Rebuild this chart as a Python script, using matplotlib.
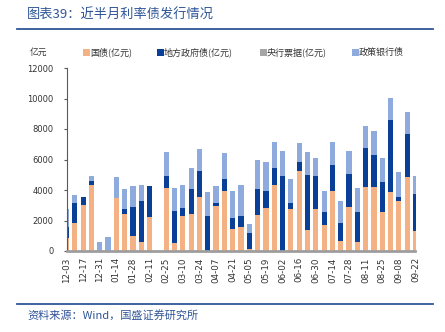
import matplotlib
matplotlib.use("Agg")
import matplotlib.pyplot as plt
from matplotlib.patches import Rectangle
from matplotlib.lines import Line2D
import numpy as np

plt.rcParams['font.family'] = ['DejaVu Sans']
CJK = ['Noto Sans CJK SC', 'DejaVu Sans']
BLUE = '#2F5597'

# weekly issuance, 100 million yuan
weeks = ['12-03', '12-10', '12-17', '12-24', '12-31', '01-07', '01-14', '01-21',
         '01-28', '02-04', '02-11', '02-18', '02-25', '03-03', '03-10', '03-17',
         '03-24', '03-31', '04-07', '04-14', '04-21', '04-28', '05-05', '05-12',
         '05-19', '05-26', '06-02', '06-09', '06-16', '06-23', '06-30', '07-07',
         '07-14', '07-21', '07-28', '08-04', '08-11', '08-18', '08-25', '09-01',
         '09-08', '09-15', '09-22']
treasury = [830, 1860, 3020, 4310, 0, 0, 3500, 2450, 1000, 600, 2230, 0,
            4150, 520, 2270, 2450, 3540, 0, 2930, 3940, 1420, 1570, 100, 2340,
            2840, 4310, 0, 2730, 5250, 1380, 2750, 1730, 3940, 680, 2890, 570,
            4220, 4180, 2540, 3850, 3260, 4850, 1330]
local_gov = [720, 1310, 540, 300, 0, 0, 0, 280, 1900, 2670, 2010, 0,
             770, 2130, 570, 1600, 1690, 2300, 240, 760, 740, 720, 1050, 1710,
             1100, 1160, 4920, 440, 570, 3630, 2150, 810, 1700, 1140, 2140, 2010,
             2520, 2120, 1970, 4760, 300, 2800, 2390]
cb_bills = [0] * len(weeks)
policy_bank = [1200, 520, 0, 310, 600, 950, 1350, 1320, 1390, 1090, 0, 0,
               1550, 1500, 1510, 1370, 1440, 1570, 1120, 1750, 1800, 2050, 600, 1900,
               1880, 1680, 1660, 1530, 1280, 1460, 1220, 1420, 1490, 1460, 1530, 1550,
               1460, 1550, 1570, 1450, 1600, 1450, 1180]

series = [('国债(亿元)', treasury, '#F4B183'),
          ('地方政府债(亿元)', local_gov, '#0A3F98'),
          ('央行票据(亿元)', cb_bills, '#A6A6A6'),
          ('政策银行债', policy_bank, '#8FAADC')]

fig = plt.figure(figsize=(4.45, 3.32), dpi=100)
ax = fig.add_axes([66.5 / 445, 1 - 251 / 332, 349 / 445, 183 / 332])

x = np.arange(len(weeks))
bottom = np.zeros(len(weeks))
for name, vals, color in series:
    vals = np.array(vals, dtype=float)
    ax.bar(x, vals, width=0.62, bottom=bottom, color=color, linewidth=0)
    bottom += vals

ax.set_xlim(0, len(weeks) - 1)
ax.set_ylim(0, 12000)
ax.set_yticks(np.arange(0, 12001, 2000))
ax.set_xticks(x[::2])
ax.set_xticklabels(weeks[::2], rotation=90, fontsize=6.3, color='#333333')
ax.tick_params(axis='x', length=0, pad=4.5)
ax.tick_params(axis='y', length=2.5, width=0.8, color='#595959', pad=7,
               labelsize=6, labelcolor='#333333')

for side in ('top', 'right'):
    ax.spines[side].set_visible(False)
ax.spines['left'].set_color('#595959')
ax.spines['left'].set_linewidth(0.8)
ax.spines['bottom'].set_color('#9E9E9E')
ax.spines['bottom'].set_linewidth(2)

# header and footer
fig.text(27 / 445, 1 - 15 / 332, '图表39：近半月利率债发行情况', family=CJK,
         fontsize=9.5, color=BLUE, style='italic', va='center', ha='left')
fig.add_artist(Line2D([17 / 445, 433 / 445], [1 - 29 / 332] * 2,
                      color=BLUE, linewidth=1.3))
fig.add_artist(Line2D([17 / 445, 433 / 445], [1 - 304 / 332] * 2,
                      color=BLUE, linewidth=1.3))
fig.text(27 / 445, 1 - 315 / 332, '资料来源：Wind，国盛证券研究所', family=CJK,
         fontsize=8, color=BLUE, style='italic', va='center', ha='left')

# legend row
fig.text(30 / 445, 1 - 52 / 332, '亿元', family=CJK, fontsize=6.3,
         color='#333333', va='center', ha='left')
legend_x = [83, 157, 260, 352]
for lx, (name, vals, color) in zip(legend_x, series):
    fig.add_artist(Rectangle((lx / 445, 1 - 55.5 / 332), 6.5 / 445, 6.5 / 332,
                             facecolor=color, edgecolor='none'))
    fig.text((lx + 7) / 445, 1 - 52 / 332, name, family=CJK, fontsize=6.5,
             color='#333333', va='center', ha='left')

fig.savefig('out.png', dpi=100)
